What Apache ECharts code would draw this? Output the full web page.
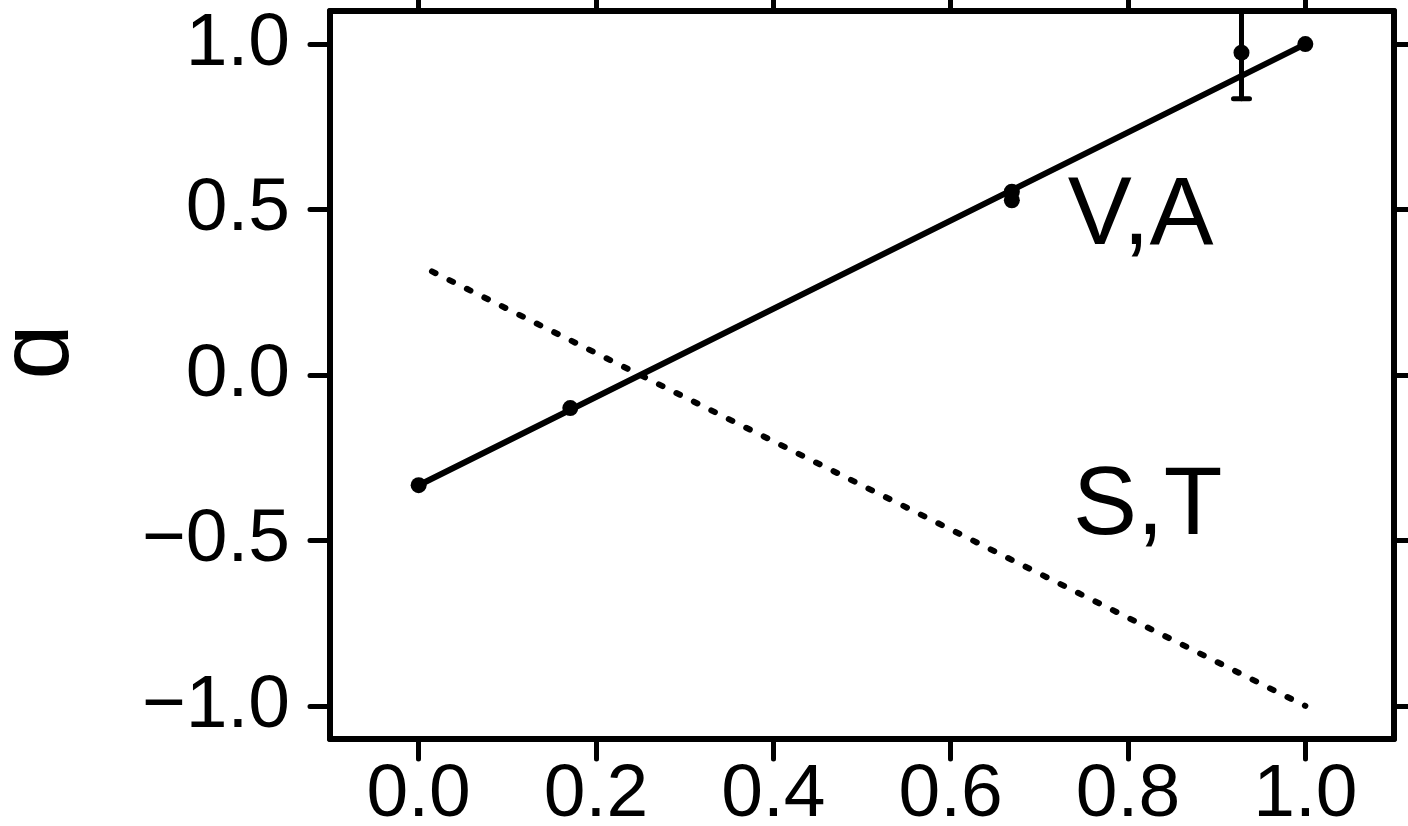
<!DOCTYPE html>
<html>
<head>
<meta charset="utf-8">
<title>Correlation coefficient a</title>
<script src="https://cdn.jsdelivr.net/npm/echarts@6/dist/echarts.min.js"></script>
<style>
  html, body { margin: 0; padding: 0; background: #ffffff; }
  #chart { width: 1408px; height: 826px; }
</style>
</head>
<body>
<div id="chart"></div>
<script>
// Tick positions on both axes
const xTicks = [0.0, 0.2, 0.4, 0.6, 0.8, 1.0];
const yTicks = [-1.0, -0.5, 0.0, 0.5, 1.0];

// Measured points [x, a]
const measured = [
  [0.0, -0.333],
  [0.171, -0.10],
  [0.669, 0.554],
  [0.669, 0.528],
  [0.928, 0.974],
  [1.0, 1.0]
];
// Error bars [x, low, high]
const errorBars = [
  [0.928, 0.835, 1.113]
];

// Theory lines
const vaLine = [[0.0, -0.333], [1.0, 1.0]];
const stLine = [[0.015, 0.313], [1.0, -1.0]];

// Line labels [x, a, text]
const lineLabels = [
  [0.732, 0.330, 'V,A'],
  [0.738, -0.545, 'S,T']
];

const FONT = '"Liberation Sans", Arial, "DejaVu Sans", sans-serif';
const INK = '#000000';

const axisCommon = {
  type: 'value',
  splitLine: { show: false },
  axisLine: { show: true, onZero: false, lineStyle: { color: INK, width: 6, cap: 'round' } },
  axisTick: { show: true, inside: false, length: 20, lineStyle: { color: INK, width: 5, cap: 'round' } }
};

const fmt = v => {
  const s = Number(v).toFixed(1);
  return s.replace('-', '\u2212');
};

const chart = echarts.init(document.getElementById('chart'), null, { renderer: 'canvas' });

chart.setOption({
  animation: false,
  backgroundColor: '#ffffff',
  grid: { left: 330, right: 14, top: 11, bottom: 87, containLabel: false, outerBoundsMode: 'none' },
  xAxis: [
    Object.assign({}, axisCommon, {
      position: 'bottom', min: -0.1, max: 1.1,
      axisTick: Object.assign({}, axisCommon.axisTick, { customValues: xTicks }),
      axisLabel: {
        show: true, customValues: xTicks, margin: 19, formatter: fmt,
        color: INK, fontSize: 75, fontFamily: FONT
      }
    }),
    Object.assign({}, axisCommon, {
      position: 'top', min: -0.1, max: 1.1,
      axisTick: Object.assign({}, axisCommon.axisTick, { customValues: xTicks }),
      axisLabel: { show: false }
    })
  ],
  yAxis: [
    Object.assign({}, axisCommon, {
      position: 'left', min: -1.1, max: 1.1,
      axisTick: Object.assign({}, axisCommon.axisTick, { customValues: yTicks }),
      axisLabel: {
        show: true, customValues: yTicks, margin: 40, formatter: fmt,
        color: INK, fontSize: 75, fontFamily: FONT
      },
      name: '\u0251',
      nameLocation: 'middle',
      nameRotate: 90,
      nameGap: 240,
      nameTextStyle: { color: INK, fontSize: 100, fontFamily: FONT, padding: [0, 0, 0, 46] }
    }),
    Object.assign({}, axisCommon, {
      position: 'right', min: -1.1, max: 1.1,
      axisTick: Object.assign({}, axisCommon.axisTick, { customValues: yTicks }),
      axisLabel: { show: false }
    })
  ],
  series: [
    {
      name: 'V,A',
      type: 'line',
      data: vaLine,
      symbol: 'none',
      lineStyle: { color: INK, width: 6, cap: 'round' },
      z: 3
    },
    {
      name: 'S,T',
      type: 'line',
      data: stLine,
      symbol: 'none',
      lineStyle: { color: INK, width: 6, type: [4, 15.5], cap: 'round' },
      z: 3
    },
    {
      name: 'error',
      type: 'custom',
      clip: true,
      data: errorBars,
      renderItem: function (params, api) {
        const x = api.value(0);
        const lo = api.coord([x, api.value(1)]);
        const hi = api.coord([x, api.value(2)]);
        const hw = 8;
        const style = { stroke: INK, lineWidth: 5, lineCap: 'round' };
        return {
          type: 'group',
          children: [
            { type: 'line', shape: { x1: lo[0], y1: lo[1], x2: hi[0], y2: hi[1] }, style: style },
            { type: 'line', shape: { x1: lo[0] - hw, y1: lo[1], x2: lo[0] + hw, y2: lo[1] }, style: style },
            { type: 'line', shape: { x1: hi[0] - hw, y1: hi[1], x2: hi[0] + hw, y2: hi[1] }, style: style }
          ]
        };
      },
      z: 4
    },
    {
      name: 'measured',
      type: 'scatter',
      data: measured,
      symbol: 'circle',
      symbolSize: 16,
      itemStyle: { color: INK, opacity: 1 },
      z: 5
    },
    {
      name: 'labels',
      type: 'custom',
      data: lineLabels,
      renderItem: function (params, api) {
        const p = api.coord([api.value(0), api.value(1)]);
        return {
          type: 'text',
          x: p[0], y: p[1],
          style: {
            text: lineLabels[params.dataIndex][2],
            fill: INK,
            font: '96px ' + FONT,
            textAlign: 'left',
            textVerticalAlign: 'bottom'
          }
        };
      },
      z: 6
    }
  ]
});
</script>
</body>
</html>
